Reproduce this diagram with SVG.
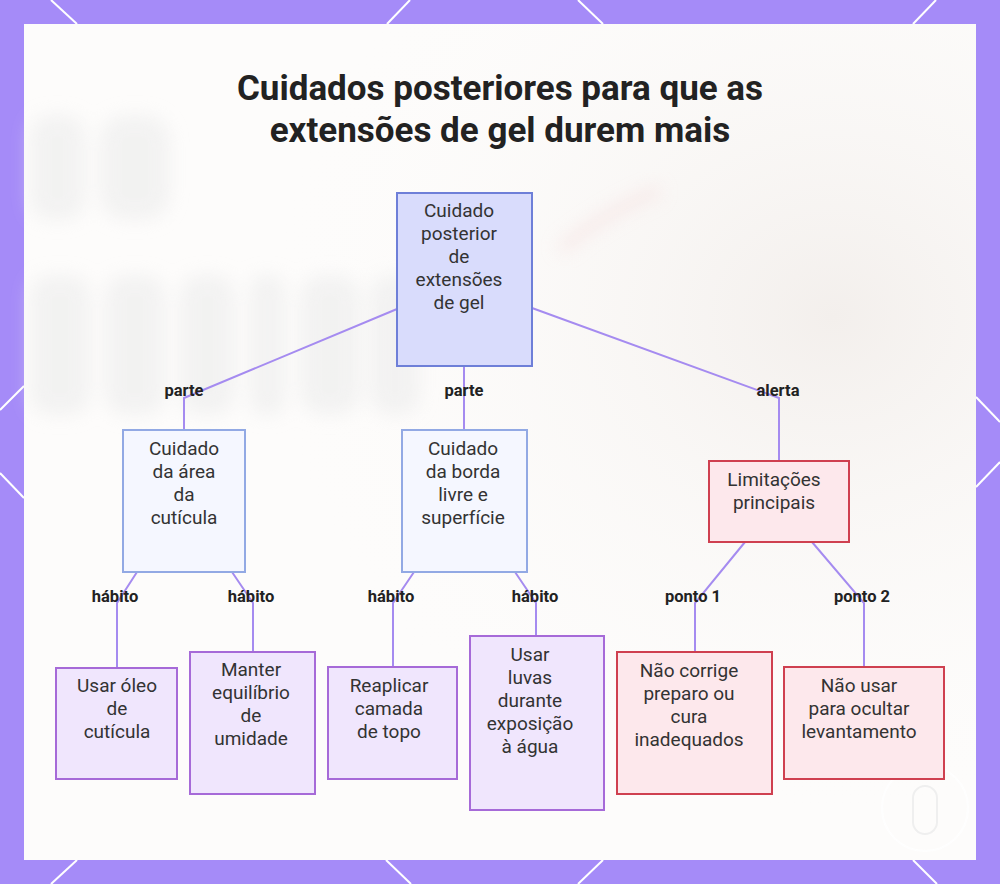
<svg xmlns="http://www.w3.org/2000/svg" width="1000" height="884" viewBox="0 0 1000 884">
<defs>
<filter id="blur" x="-30%" y="-30%" width="160%" height="160%"><feGaussianBlur stdDeviation="9"/></filter>
<radialGradient id="warm" cx="0.85" cy="0.35" r="0.6"><stop offset="0" stop-color="#f3efec"/><stop offset="1" stop-color="#fdfcfb" stop-opacity="0"/></radialGradient>
<style>
.title{font-family:Roboto,"Liberation Sans",sans-serif;font-weight:700;font-size:35px;fill:#222;text-anchor:middle}
.nt{font-family:Roboto,"Liberation Sans",sans-serif;font-size:19px;fill:#333;text-anchor:middle}
.lb{font-family:Roboto,"Liberation Sans",sans-serif;font-weight:700;font-size:16.5px;fill:#222;text-anchor:middle}
.edge{fill:none;stroke:#a58bf0;stroke-width:2}
.root{fill:#d9dcfc;stroke:#6e7fd8;stroke-width:2}
.l2{fill:#f5f7ff;stroke:#92a9e4;stroke-width:2}
.l3{fill:#f0e6fd;stroke:#a66ad8;stroke-width:2}
.red{fill:#fde8ec;stroke:#cf4050;stroke-width:2}
.bl{stroke:#ffffff;stroke-width:2;fill:none}
</style>
</defs>
<rect x="0" y="0" width="1000" height="884" fill="#a58bf8"/>
<g class="bl">
<line x1="51" y1="0" x2="77" y2="24"/>
<line x1="410" y1="0" x2="387" y2="24"/>
<line x1="578" y1="0" x2="603" y2="24"/>
<line x1="936" y1="0" x2="913" y2="24"/>
<line x1="77" y1="860" x2="51" y2="884"/>
<line x1="386" y1="860" x2="411" y2="884"/>
<line x1="603" y1="860" x2="578" y2="884"/>
<line x1="913" y1="860" x2="937" y2="884"/>
<line x1="0" y1="410" x2="24" y2="386"/>
<line x1="0" y1="473" x2="24" y2="498"/>
<line x1="976" y1="397" x2="1000" y2="422"/>
<line x1="1000" y1="462" x2="976" y2="487"/>
</g>
<rect x="24" y="24" width="952" height="836" fill="#fdfcfb"/>
<rect x="24" y="24" width="952" height="836" fill="url(#warm)"/>
<g filter="url(#blur)" fill="#ececec" opacity="0.6">
<rect x="30" y="115" width="55" height="105" rx="20"/>
<rect x="100" y="115" width="70" height="105" rx="25"/>
<rect x="30" y="275" width="60" height="140" rx="20"/>
<rect x="105" y="275" width="60" height="140" rx="20"/>
<rect x="180" y="275" width="55" height="140" rx="20"/>
<rect x="250" y="275" width="35" height="140" rx="12"/>
<rect x="300" y="275" width="60" height="140" rx="22"/>
<rect x="370" y="275" width="50" height="140" rx="20"/>
</g>
<path d="M560 250 Q600 215 660 190" stroke="#f3d6d6" stroke-width="10" fill="none" filter="url(#blur)" opacity="0.5"/>
<g fill="none" stroke="#ffffff" stroke-width="2" opacity="0.9">
<circle cx="925" cy="808" r="43"/>
<rect x="913" y="786" width="24" height="48" rx="12" stroke="#eeeeee"/>
</g>
<text class="title" x="500" y="100">Cuidados posteriores para que as</text>
<text class="title" x="500" y="142">extensões de gel durem mais</text>
<g id="connectors">
<polyline class="edge" points="397,309 184,398 184,430"/>
<polyline class="edge" points="464,366 464,430"/>
<polyline class="edge" points="532,308 779,398 779,461"/>
<polyline class="edge" points="137,572 117,603 117,668"/>
<polyline class="edge" points="232,572 253,603 253,652"/>
<polyline class="edge" points="414,572 393,603 393,667"/>
<polyline class="edge" points="515,572 536,603 536,636"/>
<polyline class="edge" points="745,542 695,603 695,652"/>
<polyline class="edge" points="812,542 864,603 864,667"/>
<text class="lb" x="184" y="396">parte</text>
<text class="lb" x="464" y="396">parte</text>
<text class="lb" x="778" y="396">alerta</text>
<text class="lb" x="115" y="602">hábito</text>
<text class="lb" x="251" y="602">hábito</text>
<text class="lb" x="391" y="602">hábito</text>
<text class="lb" x="535" y="602">hábito</text>
<text class="lb" x="693" y="602">ponto 1</text>
<text class="lb" x="862" y="602">ponto 2</text>
</g>
<g id="root">
<rect class="root" x="397" y="193" width="135" height="173"/>
<text class="nt" x="459" y="217">Cuidado</text>
<text class="nt" x="459" y="240">posterior</text>
<text class="nt" x="459" y="263">de</text>
<text class="nt" x="459" y="286">extensões</text>
<text class="nt" x="459" y="309">de gel</text>
</g>
<g id="cuticula">
<rect class="l2" x="123" y="430" width="122" height="142"/>
<text class="nt" x="184" y="455">Cuidado</text>
<text class="nt" x="184" y="478">da área</text>
<text class="nt" x="184" y="501">da</text>
<text class="nt" x="184" y="524">cutícula</text>
</g>
<g id="borda">
<rect class="l2" x="402" y="430" width="125" height="142"/>
<text class="nt" x="463" y="455">Cuidado</text>
<text class="nt" x="463" y="478">da borda</text>
<text class="nt" x="463" y="501">livre e</text>
<text class="nt" x="463" y="524">superfície</text>
</g>
<g id="limitacoes">
<rect class="red" x="709" y="461" width="140" height="81"/>
<text class="nt" x="774" y="486">Limitações</text>
<text class="nt" x="774" y="509">principais</text>
</g>
<g id="oleo">
<rect class="l3" x="56" y="668" width="121" height="111"/>
<text class="nt" x="117" y="692">Usar óleo</text>
<text class="nt" x="117" y="715">de</text>
<text class="nt" x="117" y="738">cutícula</text>
</g>
<g id="umidade">
<rect class="l3" x="190" y="652" width="125" height="142"/>
<text class="nt" x="251" y="676">Manter</text>
<text class="nt" x="251" y="699">equilíbrio</text>
<text class="nt" x="251" y="722">de</text>
<text class="nt" x="251" y="745">umidade</text>
</g>
<g id="topo">
<rect class="l3" x="328" y="667" width="129" height="112"/>
<text class="nt" x="389" y="692">Reaplicar</text>
<text class="nt" x="389" y="715">camada</text>
<text class="nt" x="389" y="738">de topo</text>
</g>
<g id="luvas">
<rect class="l3" x="470" y="636" width="134" height="174"/>
<text class="nt" x="530" y="661">Usar</text>
<text class="nt" x="530" y="684">luvas</text>
<text class="nt" x="530" y="707">durante</text>
<text class="nt" x="530" y="730">exposição</text>
<text class="nt" x="530" y="753">à água</text>
</g>
<g id="corrige">
<rect class="red" x="617" y="652" width="155" height="142"/>
<text class="nt" x="689" y="677">Não corrige</text>
<text class="nt" x="689" y="700">preparo ou</text>
<text class="nt" x="689" y="723">cura</text>
<text class="nt" x="689" y="746">inadequados</text>
</g>
<g id="ocultar">
<rect class="red" x="784" y="667" width="160" height="112"/>
<text class="nt" x="859" y="692">Não usar</text>
<text class="nt" x="859" y="715">para ocultar</text>
<text class="nt" x="859" y="738">levantamento</text>
</g>
</svg>
